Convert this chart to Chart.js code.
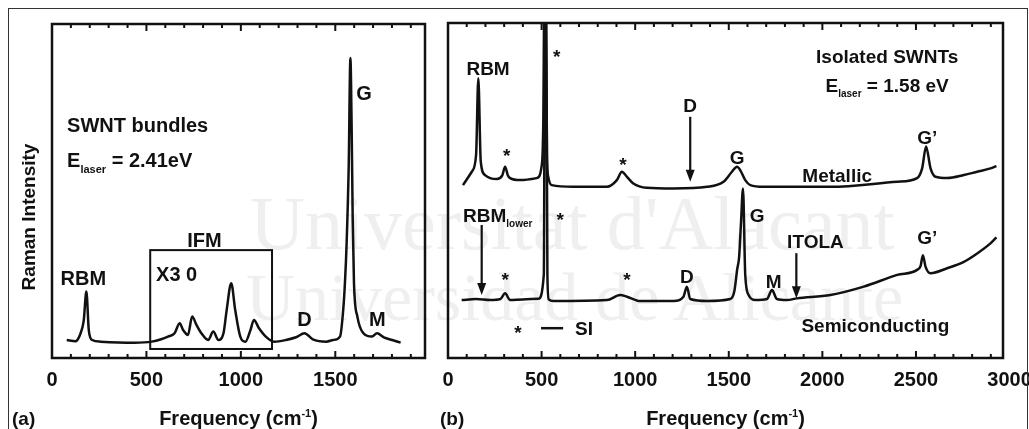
<!DOCTYPE html>
<html>
<head>
<meta charset="utf-8">
<script src="https://cdn.jsdelivr.net/npm/chart.js@4.4.1/dist/chart.umd.min.js"></script>
<style>
  html, body { margin: 0; padding: 0; background: #fff; width: 1029px; height: 429px; overflow: hidden; position: relative; }
  #frame { position: absolute; left: 8px; top: 8px; width: 1020px; height: 440px; border: 1.5px solid #333; box-sizing: border-box; z-index: 3; }
  .wm { position: absolute; font-family: "Liberation Serif", serif; color: #efefef; font-size: 76px; white-space: nowrap; z-index: 0; }
  #boxA { position: absolute; left: 0; top: 0; z-index: 1; }
  #boxB { position: absolute; left: 430px; top: 0; z-index: 1; }
</style>
</head>
<body>
<div class="wm" style="left:250px; top:180px;">Universitat d'Alacant</div>
<div class="wm" style="left:246px; top:258px; font-size:68px;">Universidad de Alicante</div>
<div id="frame"></div>
<div id="boxA"><canvas id="chartA" width="440" height="429"></canvas></div>
<div id="boxB"><canvas id="chartB" width="620" height="429"></canvas></div>
<script>
// (a) SWNT bundles, Elaser = 2.41 eV  (IFM region shown x30)
const freqA = [78, 124, 150, 168, 182, 195, 213, 257, 435, 528, 578, 614, 649, 676, 694, 720, 742, 765, 791, 827, 854, 881, 908, 925, 949, 970, 997, 1024, 1051, 1069, 1096, 1132, 1176, 1239, 1292, 1337, 1381, 1453, 1489, 1525, 1542, 1551, 1560, 1571, 1580, 1587, 1592, 1599, 1617, 1649, 1694, 1721, 1757, 1801, 1846];
const intA  = [5.4, 5.0, 7.2, 11.2, 19.9, 8.2, 5.4, 4.9, 4.6, 4.9, 5.6, 6.4, 7.4, 10.4, 8.4, 6.9, 12.4, 9.9, 7.4, 5.4, 7.9, 5.4, 7.4, 14.4, 22.4, 14.4, 6.4, 4.9, 8.4, 11.4, 8.9, 6.4, 4.9, 5.4, 6.2, 7.4, 5.6, 4.9, 5.4, 6.4, 14.4, 22.4, 34.3, 57.3, 89.8, 67.3, 42.4, 22.4, 12.4, 7.4, 6.4, 7.4, 6.2, 5.4, 4.6];

// (b) isolated SWNTs, Elaser = 1.58 eV
const freqMet = [80, 127, 150, 162, 175, 198, 225, 260, 290, 305, 320, 332, 385, 474, 501, 509, 515, 522, 529, 536, 554, 670, 849, 902, 929, 956, 990, 1062, 1204, 1384, 1472, 1517, 1544, 1561, 1588, 1615, 1686, 2043, 2400, 2506, 2533, 2554, 2578, 2604, 2667, 2756, 2827, 2898, 2930];
const intMet  = [51.6, 55.6, 60.6, 83.5, 58.6, 54.6, 53.7, 53.4, 54.5, 57.1, 54.5, 53.7, 53.1, 53.7, 57.6, 70, 110, 110, 60, 54.0, 51.6, 51.1, 51.1, 53.1, 55.6, 54.1, 52.1, 50.8, 50.6, 51.1, 52.6, 55.6, 57.1, 56.1, 53.1, 51.6, 51.1, 51.1, 52.6, 53.7, 56.6, 63.1, 56.6, 54.1, 53.7, 54.6, 55.6, 56.6, 57.3];
const freqSemi = [73, 150, 225, 280, 305, 332, 400, 483, 512, 518, 524, 531, 538, 563, 849, 920, 956, 1027, 1205, 1258, 1276, 1294, 1384, 1508, 1530, 1545, 1555, 1565, 1576, 1588, 1606, 1642, 1704, 1731, 1757, 1811, 1864, 2043, 2221, 2400, 2506, 2525, 2537, 2551, 2578, 2667, 2756, 2827, 2898, 2930];
const intSemi  = [17.3, 17.6, 17.3, 17.6, 19.3, 17.3, 17.5, 17.7, 25, 110, 110, 25, 17.5, 17.0, 17.3, 18.8, 18.3, 17.0, 17.0, 18.3, 21.3, 17.6, 17.0, 17.6, 20, 26.5, 30, 40, 50.6, 24.8, 18.8, 17.3, 17.6, 20.3, 17.6, 17.3, 17.8, 18.8, 21.3, 24.8, 26.3, 27.5, 30.7, 27.3, 25.3, 26.8, 28.7, 31.2, 34.2, 36];

const ticksA = [0, 500, 1000, 1500];
const ticksB = [0, 500, 1000, 1500, 2000, 2500, 3000];

const FONT = '"Liberation Sans", Arial, sans-serif';

// labels, in data units
const notesA = [
  { rich: [['SWNT bundles', '']], x: 80, y: 69.8, align: 'left' },
  { rich: [['E', ''], ['laser', 'sub'], [' = 2.41eV', '']], x: 80, y: 59.3, align: 'left' },
  { t: 'RBM', x: 166, y: 24 },
  { t: 'IFM', x: 807, y: 35.3 },
  { rich: [['X3 0', '']], x: 551, y: 25.1, align: 'left' },
  { t: 'D', x: 1337, y: 11.7 },
  { t: 'G', x: 1652, y: 79.3 },
  { t: 'M', x: 1722, y: 11.7 }
];
const boxesA = [{ x0: 520, x1: 1165, y0: 2.7, y1: 32.3 }];

const notesB = [
  { t: 'RBM', x: 214, y: 86.6 },
  { t: '*', x: 581, y: 91.4 },
  { t: '*', x: 314, y: 61.6 },
  { t: '*', x: 934, y: 59.1 },
  { t: 'D', x: 1294, y: 75.5 },
  { t: 'G', x: 1545, y: 60.1 },
  { t: 'Isolated SWNTs', x: 2346, y: 90 },
  { rich: [['E', ''], ['laser', 'sub'], [' = 1.58 eV', '']], x: 2346, y: 81.5 },
  { t: "G\u2019", x: 2560, y: 66 },
  { t: 'Metallic', x: 2079, y: 54.6 },
  { rich: [['RBM', ''], ['lower', 'sub']], x: 80, y: 42.7, align: 'left' },
  { t: '*', x: 599, y: 42.7 },
  { t: '*', x: 305, y: 24.8 },
  { t: '*', x: 956, y: 24.8 },
  { t: 'D', x: 1276, y: 24.3 },
  { t: '*', x: 374, y: 8.9 },
  { t: 'SI', x: 727, y: 8.9 },
  { t: 'G', x: 1651, y: 42.5 },
  { t: 'ITOLA', x: 1963, y: 34.8 },
  { t: 'M', x: 1740, y: 22.8 },
  { t: "G\u2019", x: 2560, y: 36 },
  { t: 'Semiconducting', x: 2283, y: 9.9 }
];
const arrowsB = [
  { x: 1294, y0: 72, y1: 52.6 },
  { x: 180, y0: 39.7, y1: 18.8 },
  { x: 1861, y0: 31.3, y1: 17.8 }
];
const dashB = [{ x0: 497, x1: 615, y: 8.9 }];

function drawRich(ctx, parts, x, cy, align, size) {
  const fontFor = k => 'bold ' + (k ? Math.round(size * 0.55) : size) + 'px ' + FONT;
  let w = 0;
  parts.forEach(p => { ctx.font = fontFor(p[1]); w += ctx.measureText(p[0]).width; });
  let cx = align === 'left' ? x : x - w / 2;
  const base = cy + size * 0.36;
  ctx.textAlign = 'left';
  ctx.textBaseline = 'alphabetic';
  parts.forEach(p => {
    ctx.font = fontFor(p[1]);
    const dy = p[1] === 'sub' ? size * 0.28 : p[1] === 'sup' ? -size * 0.42 : 0;
    ctx.fillText(p[0], cx, base + dy);
    cx += ctx.measureText(p[0]).width;
  });
}

const decor = {
  id: 'decor',
  afterDatasetsDraw(chart, args, opts) {
    const ctx = chart.ctx;
    const a = chart.chartArea;
    const xs = chart.scales.x, ys = chart.scales.y;
    ctx.save();
    ctx.fillStyle = '#111';
    ctx.strokeStyle = '#111';

    // frame
    ctx.lineWidth = 2.5;
    ctx.strokeRect(a.left, a.top, a.right - a.left, a.bottom - a.top);

    // inward ticks top and bottom
    ctx.lineWidth = 2;
    for (let v = 0; v <= xs.max; v += 100) {
      const px = xs.getPixelForValue(v);
      const len = v % 500 === 0 ? 7 : 4;
      ctx.beginPath();
      ctx.moveTo(px, a.bottom); ctx.lineTo(px, a.bottom - len);
      ctx.moveTo(px, a.top); ctx.lineTo(px, a.top + len);
      ctx.stroke();
    }

    (opts.boxes || []).forEach(b => {
      const x0 = xs.getPixelForValue(b.x0), x1 = xs.getPixelForValue(b.x1);
      const y0 = ys.getPixelForValue(b.y0), y1 = ys.getPixelForValue(b.y1);
      ctx.lineWidth = 2;
      ctx.strokeRect(x0, y1, x1 - x0, y0 - y1);
    });

    (opts.dashes || []).forEach(d => {
      const y = ys.getPixelForValue(d.y);
      ctx.lineWidth = 2.5;
      ctx.beginPath();
      ctx.moveTo(xs.getPixelForValue(d.x0), y);
      ctx.lineTo(xs.getPixelForValue(d.x1), y);
      ctx.stroke();
    });

    (opts.arrows || []).forEach(r => {
      const px = xs.getPixelForValue(r.x);
      const y0 = ys.getPixelForValue(r.y0), y1 = ys.getPixelForValue(r.y1);
      ctx.lineWidth = 2.2;
      ctx.beginPath();
      ctx.moveTo(px, y0); ctx.lineTo(px, y1 - 10);
      ctx.stroke();
      ctx.beginPath();
      ctx.moveTo(px - 4.5, y1 - 12); ctx.lineTo(px + 4.5, y1 - 12); ctx.lineTo(px, y1);
      ctx.closePath(); ctx.fill();
    });

    const size = opts.size;
    (opts.notes || []).forEach(n => {
      const px = xs.getPixelForValue(n.x), py = ys.getPixelForValue(n.y);
      if (n.rich) {
        drawRich(ctx, n.rich, px, py, n.align || 'center', size);
      } else if (n.t === '*') {
        ctx.font = 'bold ' + size + 'px ' + FONT;
        ctx.textAlign = 'center'; ctx.textBaseline = 'alphabetic';
        ctx.fillText('*', px, py + size * 0.57);
      } else {
        drawRich(ctx, [[n.t, '']], px, py, 'center', size);
      }
    });

    // axis title and panel letter
    const midX = (a.left + a.right) / 2;
    drawRich(ctx, [['Frequency (cm', ''], ['-1', 'sup'], [')', '']], midX, 418, 'center', 20);
    drawRich(ctx, [[opts.letter, '']], opts.letterX, 418, 'left', 19);

    if (opts.yTitle) {
      ctx.save();
      ctx.translate(opts.yTitleX, (a.top + a.bottom) / 2 + 26);
      ctx.rotate(-Math.PI / 2);
      drawRich(ctx, [[opts.yTitle, '']], 0, 0, 'center', 19);
      ctx.restore();
    }
    ctx.restore();
  }
};

function xAxis(max, ticks) {
  return {
    type: 'linear', min: 0, max: max,
    afterBuildTicks: s => { s.ticks = ticks.map(v => ({ value: v })); },
    afterFit: s => { s.height = 71; },
    grid: { display: false, drawTicks: false, tickLength: 0 },
    border: { display: false },
    ticks: {
      autoSkip: false, maxRotation: 0, padding: 10, color: '#111',
      font: { family: FONT, size: 20, weight: 'bold' },
      callback: v => String(v)
    }
  };
}

function line(freq, vals) {
  return {
    data: freq.map((f, i) => ({ x: f, y: vals[i] })),
    borderColor: '#111', borderWidth: 2.5, pointRadius: 0,
    cubicInterpolationMode: 'monotone', fill: false
  };
}

new Chart(document.getElementById('chartA'), {
  type: 'line',
  data: { datasets: [line(freqA, intA)] },
  options: {
    responsive: false, animation: false,
    layout: { padding: { left: 52, right: 15, top: 24, bottom: 0 } },
    scales: { x: xAxis(1975, ticksA), y: { display: false, min: 0, max: 100 } },
    plugins: {
      legend: { display: false }, tooltip: { enabled: false },
      decor: { notes: notesA, boxes: boxesA, size: 20, letter: '(a)', letterX: 12, yTitle: 'Raman Intensity', yTitleX: 28 }
    }
  },
  plugins: [decor]
});

new Chart(document.getElementById('chartB'), {
  type: 'line',
  data: { datasets: [line(freqMet, intMet), line(freqSemi, intSemi)] },
  options: {
    responsive: false, animation: false,
    layout: { padding: { left: 18, right: 47, top: 23, bottom: 0 } },
    scales: { x: xAxis(2965, ticksB), y: { display: false, min: 0, max: 100 } },
    plugins: {
      legend: { display: false }, tooltip: { enabled: false },
      decor: { notes: notesB, arrows: arrowsB, dashes: dashB, size: 19, letter: '(b)', letterX: 10 }
    }
  },
  plugins: [decor]
});
</script>
</body>
</html>
